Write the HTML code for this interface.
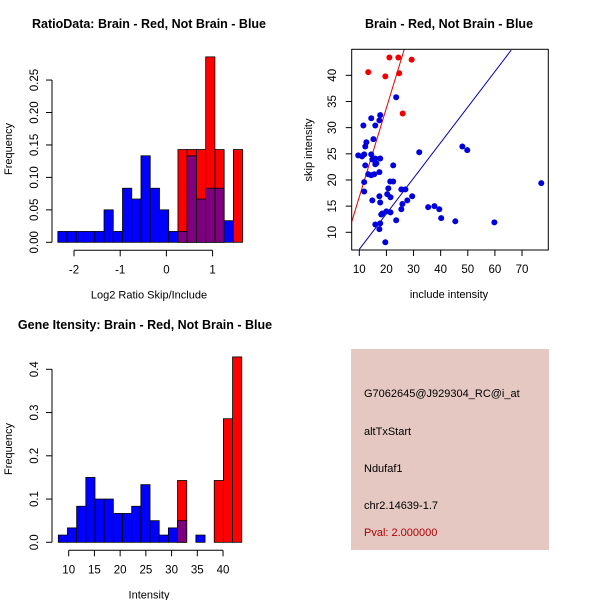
<!DOCTYPE html>
<html><head><meta charset="utf-8"><style>
body{margin:0;background:#fff}
svg{display:block;font-family:"Liberation Sans",Arial,sans-serif}
</style></head><body>
<svg id="s" width="600" height="600" xmlns="http://www.w3.org/2000/svg">
<rect width="600" height="600" fill="#fff"/>
<g id="p1"></g>
<g id="p2"></g>
<g id="p3"></g>
<g id="p4">
<rect x="351" y="349" width="198" height="201" fill="#e5c8c1"/>
<text x="364" y="397" font-size="11" fill="#000">G7062645@J929304_RC@i_at</text>
<text x="364" y="435" font-size="11" fill="#000">altTxStart</text>
<text x="364" y="472" font-size="11" fill="#000">Ndufaf1</text>
<text x="364" y="509" font-size="11" fill="#000">chr2.14639-1.7</text>
<text x="364" y="536" font-size="11" fill="#b00000">Pval: 2.000000</text>
</g>
</svg>
<script>
// ---- Chart 1 data ----
const ratioBinStart = -2.35;
const ratioBinWidth = 0.2;
const ratioBlue = [0.0167,0.0167,0.0167,0.0167,0.0167,0.05,0.0167,0.0833,0.0667,0.1333,0.0833,0.05,0.0167,0.0167,0.1333,0.0667,0.0833,0.0833,0.0333,0];
const ratioRed  = [0,0,0,0,0,0,0,0,0,0,0,0,0,0.1429,0.1429,0.1429,0.2857,0.1429,0,0.1429];
const ratioXTicks = [-2,-1,0,1];
const ratioYTicks = [0,0.05,0.10,0.15,0.20,0.25];
const ratioYTickLabels = ["0.00","0.05","0.10","0.15","0.20","0.25"];
// ---- Chart 2 data ----
const redX = [13.3,21.1,24.4,29.3,19.6,24.7,26.0];
const redY = [40.6,43.4,43.4,43.0,39.8,40.4,32.7];
const blueX = [23.6,17.7,14.4,17.4,11.5,15.9,15.2,12.6,12.2,9.6,11.0,11.8,14.4,14.8,15.9,17.7,16.3,15.9,12.2,22.5,13.3,14.4,15.5,17.4,11.8,21.4,22.5,20.7,25.5,27.0,11.8,20.3,21.5,17.4,29.5,27.7,14.8,17.7,25.9,25.5,20.0,18.5,21.5,18.1,23.6,15.9,17.7,17.4,19.6,32.1,48.0,49.8,35.4,37.7,39.5,40.2,45.4,59.8,77.1];
const blueY = [35.8,32.4,31.8,31.4,30.4,30.4,27.8,27.2,26.4,24.7,24.5,24.9,24.9,23.9,24.1,24.1,23.2,23.0,22.8,22.8,21.1,20.9,21.1,21.5,19.6,19.7,19.7,18.4,18.2,18.2,17.8,17.3,16.7,16.9,16.9,16.1,16.1,15.7,15.4,14.4,14.0,13.6,13.8,13.4,12.3,11.5,11.7,10.6,8.1,25.3,26.4,25.7,14.8,15.0,14.4,12.7,12.1,11.9,19.4];
const redLine = [7.2,12.0,26.6,45.0];
const blueLine = [10,6.75,66.0,44.8];
const scatXTicks = [10,20,30,40,50,60,70];
const scatYTicks = [10,15,20,25,30,35,40];
// ---- Chart 3 data ----
const geneBinStart = 7.98;
const geneBinWidth = 1.783;
const geneBlue = [0.0167,0.0333,0.0833,0.15,0.1,0.1,0.0667,0.0667,0.0833,0.1333,0.05,0.0167,0.0333,0.05,0,0.0167,0,0,0,0];
const geneRed  = [0,0,0,0,0,0,0,0,0,0,0,0,0,0.1429,0,0,0,0.1429,0.2857,0.4286];
const geneXTicks = [10,15,20,25,30,35,40];
const geneYTicks = [0,0.1,0.2,0.3,0.4];
const geneYTickLabels = ["0.0","0.1","0.2","0.3","0.4"];

const NS="http://www.w3.org/2000/svg";
function mk(parent,tag,attrs,txt){const e=document.createElementNS(NS,tag);for(const k in attrs)e.setAttribute(k,attrs[k]);if(txt!==undefined)e.textContent=txt;parent.appendChild(e);return e;}

function hist(g,o){
  const sx=v=>o.x0+(v-o.xv0)*o.xs, sy=v=>o.y0-v*o.ys;
  const t=mk(g,'text',{x:o.tx,y:28+o.dy,'font-size':12.5,'font-weight':'bold','text-anchor':'middle'},o.title);
  
  
  for(let i=0;i<o.blue.length;i++){
    const l=sx(o.start+i*o.w), r=sx(o.start+(i+1)*o.w);
    const b=o.blue[i], rd=o.red[i];
    if(rd>0){const e=mk(g,'rect',{x:l,y:sy(rd),width:r-l,height:sy(0)-sy(rd),fill:'#ff0000',stroke:'#000','stroke-width':0.8});
      
      }
    if(b>0){const e=mk(g,'rect',{x:l,y:sy(b),width:r-l,height:sy(0)-sy(b),fill:rd>0?'#7f007f':'#0000ff',stroke:'#000','stroke-width':0.8});
      
      }
  }
  const ay=o.y0+8;
  mk(g,'line',{x1:sx(o.xt[0]),x2:sx(o.xt[o.xt.length-1]),y1:ay,y2:ay,stroke:'#000'});
  o.xt.forEach(v=>{mk(g,'line',{x1:sx(v),x2:sx(v),y1:ay,y2:ay+6,stroke:'#000'});
    const e=mk(g,'text',{x:sx(v),y:ay+23,'font-size':11.5,'text-anchor':'middle'},String(v));
    
    });
  mk(g,'line',{x1:52,x2:52,y1:sy(o.yt[0]),y2:sy(o.yt[o.yt.length-1]),stroke:'#000'});
  o.yt.forEach((v,i)=>{mk(g,'line',{x1:46,x2:52,y1:sy(v),y2:sy(v),stroke:'#000'});
    const e=mk(g,'text',{x:0,y:0,'font-size':11.5,'text-anchor':'middle',transform:`translate(38,${sy(v)}) rotate(-90)`},o.yl[i]);
    
    });
  const xl=mk(g,'text',{x:149,y:o.y0+56,'font-size':11,'text-anchor':'middle'},o.xlab);
  
  
  const yl=mk(g,'text',{x:0,y:0,'font-size':11,'text-anchor':'middle',transform:`translate(12,${o.ymid}) rotate(-90)`},'Frequency');
  
  
}
hist(document.getElementById('p1'),{x0:74,xv0:-2,xs:46.2,y0:242.3,ys:649,start:ratioBinStart,w:ratioBinWidth,blue:ratioBlue,red:ratioRed,xt:ratioXTicks,yt:ratioYTicks,yl:ratioYTickLabels,title:'RatioData: Brain - Red, Not Brain - Blue',tx:149,dy:0,xlab:'Log2 Ratio Skip/Include',ymid:149});
hist(document.getElementById('p3'),{x0:68.7,xv0:10,xs:5.144,y0:542.3,ys:432.5,start:geneBinStart,w:geneBinWidth,blue:geneBlue,red:geneRed,xt:geneXTicks,yt:geneYTicks,yl:geneYTickLabels,title:'Gene Itensity: Brain - Red, Not Brain - Blue',tx:145,dy:301,xlab:'Intensity',ymid:449});

(function(){
  const g=document.getElementById('p2');
  const sx=v=>359.3+(v-10)*2.712, sy=v=>232.3-(v-10)*5.233;
  const L=351.7,R=548.3,T=49.3,B=250;
  const t=mk(g,'text',{x:449,y:28,'font-size':12.5,'font-weight':'bold','text-anchor':'middle'},'Brain - Red, Not Brain - Blue');
  
  
  const defs=mk(g,'defs',{});const cp=mk(defs,'clipPath',{id:'cp'});mk(cp,'rect',{x:L,y:T,width:R-L,height:B-T});
  const cg=mk(g,'g',{'clip-path':'url(#cp)'});
  const rl=mk(cg,'line',{x1:sx(redLine[0]),y1:sy(redLine[1]),x2:sx(redLine[2]),y2:sy(redLine[3]),stroke:'#e00000','stroke-width':1});
  
  
  const bl=mk(cg,'line',{x1:sx(blueLine[0]),y1:sy(blueLine[1]),x2:sx(blueLine[2]),y2:sy(blueLine[3]),stroke:'#0000b0','stroke-width':1});
  
  
  blueX.forEach((v,i)=>{const c=mk(cg,'circle',{cx:sx(v),cy:sy(blueY[i]),r:3,fill:'#0000dd'});
    
    });
  redX.forEach((v,i)=>{const c=mk(cg,'circle',{cx:sx(v),cy:sy(redY[i]),r:3,fill:'#ee0000'});
    
    });
  mk(g,'rect',{x:L,y:T,width:R-L,height:B-T,fill:'none',stroke:'#000'});
  scatXTicks.forEach(v=>{mk(g,'line',{x1:sx(v),x2:sx(v),y1:B,y2:B+6,stroke:'#000'});
    const e=mk(g,'text',{x:sx(v),y:B+23,'font-size':11.5,'text-anchor':'middle'},String(v));
    
    });
  scatYTicks.forEach(v=>{mk(g,'line',{x1:L-6,x2:L,y1:sy(v),y2:sy(v),stroke:'#000'});
    const e=mk(g,'text',{x:0,y:0,'font-size':11.5,'text-anchor':'middle',transform:`translate(336,${sy(v)}) rotate(-90)`},String(v));
    
    });
  const xl=mk(g,'text',{x:449,y:298,'font-size':11,'text-anchor':'middle'},'include intensity');
  
  
  const yl=mk(g,'text',{x:0,y:0,'font-size':11,'text-anchor':'middle',transform:`translate(312,150) rotate(-90)`},'skip intensity');
  
  
})();
</script>
</body></html>
